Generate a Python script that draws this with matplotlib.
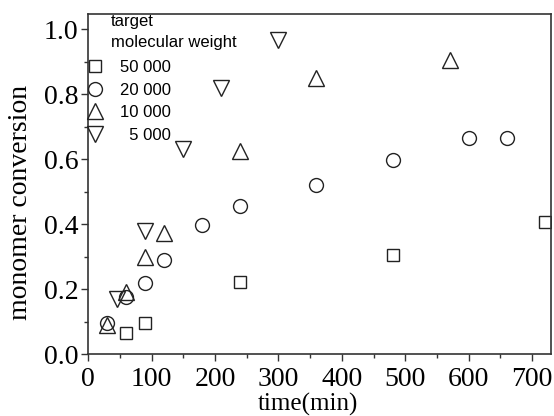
import matplotlib
matplotlib.use("Agg")
import matplotlib.pyplot as plt
from matplotlib.ticker import MultipleLocator

# target molecular weight series: time (min) vs monomer conversion
t_50000 = [60, 90, 240, 480, 720]
c_50000 = [0.064, 0.096, 0.221, 0.304, 0.407]

t_20000 = [30, 60, 90, 120, 180, 240, 360, 480, 600, 660]
c_20000 = [0.096, 0.175, 0.218, 0.290, 0.396, 0.457, 0.519, 0.598, 0.664, 0.664]

t_10000 = [30, 60, 90, 120, 240, 360, 570]
c_10000 = [0.088, 0.192, 0.298, 0.372, 0.625, 0.851, 0.905]

t_5000 = [45, 90, 150, 210, 300]
c_5000 = [0.168, 0.378, 0.632, 0.818, 0.965]

labels = ["50 000", "20 000", "10 000", "  5 000"]

serif = "Liberation Serif"
sans = "Liberation Sans"

fig = plt.figure(figsize=(5.54, 4.16), dpi=100)
ax = fig.add_axes([0.159, 0.149, 0.836, 0.817])

mk = dict(linestyle="none", markerfacecolor="none", markeredgecolor="#222222",
          markeredgewidth=1.0)
ax.plot(t_50000, c_50000, marker="s", markersize=9, label=labels[0], **mk)
ax.plot(t_20000, c_20000, marker="o", markersize=10, label=labels[1], **mk)
ax.plot(t_10000, c_10000, marker="^", markersize=12, label=labels[2], **mk)
ax.plot(t_5000, c_5000, marker="v", markersize=12, label=labels[3], **mk)

ax.set_xlim(0, 730)
ax.set_ylim(0, 1.046)
ax.xaxis.set_major_locator(MultipleLocator(100))
ax.xaxis.set_minor_locator(MultipleLocator(50))
ax.yaxis.set_major_locator(MultipleLocator(0.2))
ax.yaxis.set_minor_locator(MultipleLocator(0.1))
ax.tick_params(which="both", direction="out", top=False, right=False,
               color="#333333", width=1.0)
ax.tick_params(which="major", length=5, labelsize=20)
ax.tick_params(axis="x", which="major", pad=4)
ax.tick_params(axis="y", which="major", pad=2)
ax.tick_params(which="minor", length=3)
ax.set_yticks([0.0, 0.2, 0.4, 0.6, 0.8, 1.0])
ax.set_yticklabels(["0.0", "0.2", "0.4", "0.6", "0.8", "1.0"])
for lab in ax.get_xticklabels() + ax.get_yticklabels():
    lab.set_fontfamily(serif)

for s in ax.spines.values():
    s.set_linewidth(1.2)
    s.set_color("#333333")

ax.set_xlabel("time(min)", fontsize=18, family=serif)
ax.set_ylabel("monomer conversion", fontsize=20, family=serif)
ax.xaxis.set_label_coords(0.475, -0.147, transform=ax.transAxes)
ax.xaxis.label.set_va("center")
ax.yaxis.set_label_coords(-0.147, 0.447, transform=ax.transAxes)
ax.yaxis.label.set_va("center")

ax.text(0.05, 1.0, "target\nmolecular weight", transform=ax.transAxes,
        ha="left", va="top", fontsize=12, family=sans, linespacing=1.45)
leg = ax.legend(loc="upper left", bbox_to_anchor=(-0.002, 0.865), frameon=False,
                borderpad=0, borderaxespad=0, handlelength=1.0,
                handletextpad=1.0, labelspacing=0.45,
                prop={"family": sans, "size": 12})

fig.savefig("out.png", dpi=100)
